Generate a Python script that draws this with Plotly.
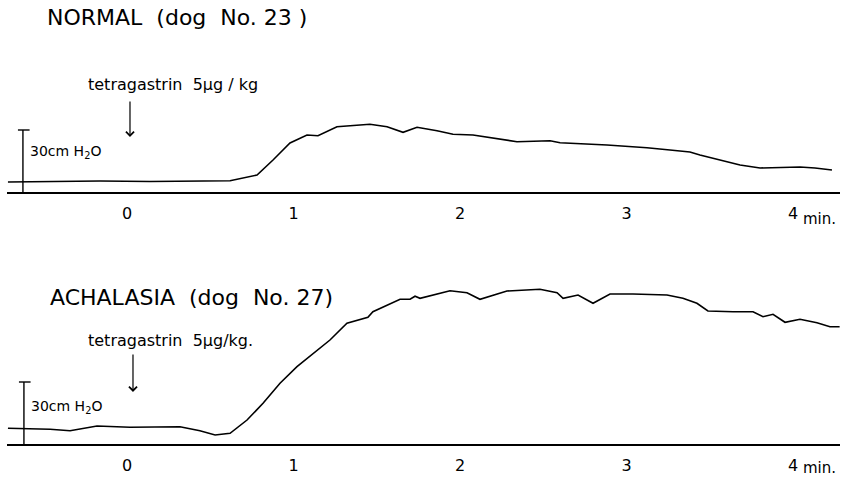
import plotly.graph_objects as go

# ---------------- data (time in min, pressure in cmH2O above baseline) -------------
normal_t = [-0.715, -0.462, -0.162, 0.138, 0.438, 0.619, 0.781, 0.877, 0.979, 1.081,
            1.147, 1.261, 1.459, 1.562, 1.658, 1.742, 1.862, 1.958, 2.078, 2.342,
            2.541, 2.601, 2.883, 3.123, 3.261, 3.381, 3.441, 3.562, 3.682, 3.802,
            4.042, 4.132, 4.234]
normal_p = [4.84, 5.08, 5.32, 5.08, 5.32, 5.47, 8.23, 15.48, 23.71, 27.58,
            27.24, 31.60, 32.76, 31.60, 28.89, 31.31, 29.66, 27.92, 27.58, 24.34,
            24.82, 23.85, 22.74, 21.44, 20.32, 19.35, 17.90, 15.48, 13.06, 11.61,
            12.10, 11.61, 10.65]

achalasia_t = [-0.715, -0.462, -0.342, -0.180, 0.018, 0.318, 0.438, 0.529, 0.619, 0.721,
               0.817, 0.919, 1.021, 1.117, 1.219, 1.321, 1.399, 1.447, 1.477, 1.562,
               1.640, 1.700, 1.730, 1.760, 1.940, 2.042, 2.120, 2.282, 2.480, 2.583,
               2.619, 2.709, 2.799, 2.901, 3.039, 3.243, 3.339, 3.423, 3.489, 3.640,
               3.760, 3.820, 3.880, 3.952, 4.042, 4.144, 4.222, 4.280]
achalasia_p = [7.60, 7.11, 6.44, 8.71, 8.08, 8.37, 6.44, 4.35, 5.18, 11.61,
               19.69, 29.37, 37.40, 43.89, 50.32, 58.40, 60.34, 61.31, 64.02, 67.26,
               70.02, 70.02, 71.50, 70.50, 74.18, 73.21, 70.02, 74.03, 74.85, 73.21,
               70.50, 72.10, 68.08, 72.58, 72.58, 72.10, 70.50, 68.08, 64.35, 64.02,
               64.02, 61.60, 62.76, 58.89, 60.34, 58.69, 56.76, 56.76]

tick_vals = [0, 1, 2, 3, 4]
tick_text = ["0", "1", "2", "3", "4"]

titles = ["NORMAL  (dog  No. 23 )", "ACHALASIA  (dog  No. 27)"]
drug_labels = ["tetragastrin  5\u03bcg / kg", "tetragastrin  5\u03bcg/kg."]
scale_label = "30cm H<sub>2</sub>O"
unit_label = "min."
scale_value = 30          # cmH2O

# ---------------- figure ----------------
W, H = 847, 477
FONT = "DejaVu Sans"

fig = go.Figure()

x_range = [-0.7207, 4.2823]
x_domain = [7 / W, 840 / W]

# top panel: baseline at px 192, bottom panel: baseline at px 444 (2.0667 px / cm)
top_dom = [1 - 192 / H, 1 - 55 / H]
bot_dom = [1 - 444 / H, 1 - 262 / H]
top_rng = [0, (192 - 55) / 2.0667]
bot_rng = [0, (444 - 262) / 2.0667]

panels = [
    dict(t=normal_t, p=normal_p, xa="x", ya="y", scale_x=-0.625, arrow_x=0.018,
         arrow_top=44.5, arrow_tip=26.6, drug_y=51.8, scale_lbl_y=19.4, unit_shift=-16),
    dict(t=achalasia_t, p=achalasia_p, xa="x2", ya="y2", scale_x=-0.619, arrow_x=0.036,
         arrow_top=44.0, arrow_tip=25.2, drug_y=50.3, scale_lbl_y=17.9, unit_shift=-13),
]

for i, pnl in enumerate(panels):
    fig.add_trace(go.Scatter(x=pnl["t"], y=pnl["p"], mode="lines",
                             line=dict(color="black", width=1.6),
                             xaxis=pnl["xa"], yaxis=pnl["ya"], hoverinfo="skip"))
    sx = pnl["scale_x"]
    # scale bar (30 cmH2O) with top cap
    fig.add_trace(go.Scatter(x=[sx, sx, None, sx - 0.03, sx + 0.04],
                             y=[0, scale_value, None, scale_value, scale_value],
                             mode="lines", line=dict(color="black", width=1.4),
                             xaxis=pnl["xa"], yaxis=pnl["ya"], hoverinfo="skip"))
    xref = pnl["xa"]
    yref = pnl["ya"]
    fig.add_annotation(x=sx + 0.03, y=pnl["scale_lbl_y"], xref=xref, yref=yref,
                       text=scale_label, showarrow=False, xanchor="left", yanchor="middle",
                       font=dict(family=FONT, size=14, color="black"))
    fig.add_annotation(x=pnl["arrow_x"], y=pnl["arrow_tip"], xref=xref, yref=yref,
                       ax=pnl["arrow_x"], ay=pnl["arrow_top"], axref=xref, ayref=yref,
                       showarrow=True, arrowhead=4, arrowsize=1.3, arrowwidth=1.2,
                       arrowcolor="black", text="")
    fig.add_annotation(x=-0.245, y=pnl["drug_y"], xref=xref, yref=yref,
                       text=drug_labels[i], showarrow=False, xanchor="left", yanchor="middle",
                       font=dict(family=FONT, size=16, color="black"))
    fig.add_annotation(x=4.05, y=0, xref=xref, yref=yref, text=unit_label,
                       showarrow=False, xanchor="left", yanchor="top",
                       yshift=pnl["unit_shift"],
                       font=dict(family=FONT, size=15, color="black"))

fig.add_annotation(x=45 / W, y=1 - 18 / H, xref="paper", yref="paper", text=titles[0],
                   showarrow=False, xanchor="left", yanchor="middle",
                   font=dict(family=FONT, size=22, color="black"))
fig.add_annotation(x=48 / W, y=1 - 297 / H, xref="paper", yref="paper", text=titles[1],
                   showarrow=False, xanchor="left", yanchor="middle",
                   font=dict(family=FONT, size=22, color="black"))

xaxis_common = dict(range=x_range, domain=x_domain, showgrid=False, zeroline=False,
                    showline=True, linecolor="black", linewidth=2, ticks="",
                    tickvals=tick_vals, ticktext=tick_text, ticklabelstandoff=6,
                    tickfont=dict(family=FONT, size=16, color="black"), fixedrange=True)
yaxis_common = dict(visible=False, showgrid=False, zeroline=False, fixedrange=True)

fig.update_layout(
    width=W, height=H, margin=dict(l=0, r=0, t=0, b=0),
    paper_bgcolor="white", plot_bgcolor="white", showlegend=False,
    xaxis=dict(anchor="y", **xaxis_common),
    xaxis2=dict(anchor="y2", **xaxis_common),
    yaxis=dict(anchor="x", domain=top_dom, range=top_rng, **yaxis_common),
    yaxis2=dict(anchor="x2", domain=bot_dom, range=bot_rng, **yaxis_common),
)

fig.write_html("out.html")
